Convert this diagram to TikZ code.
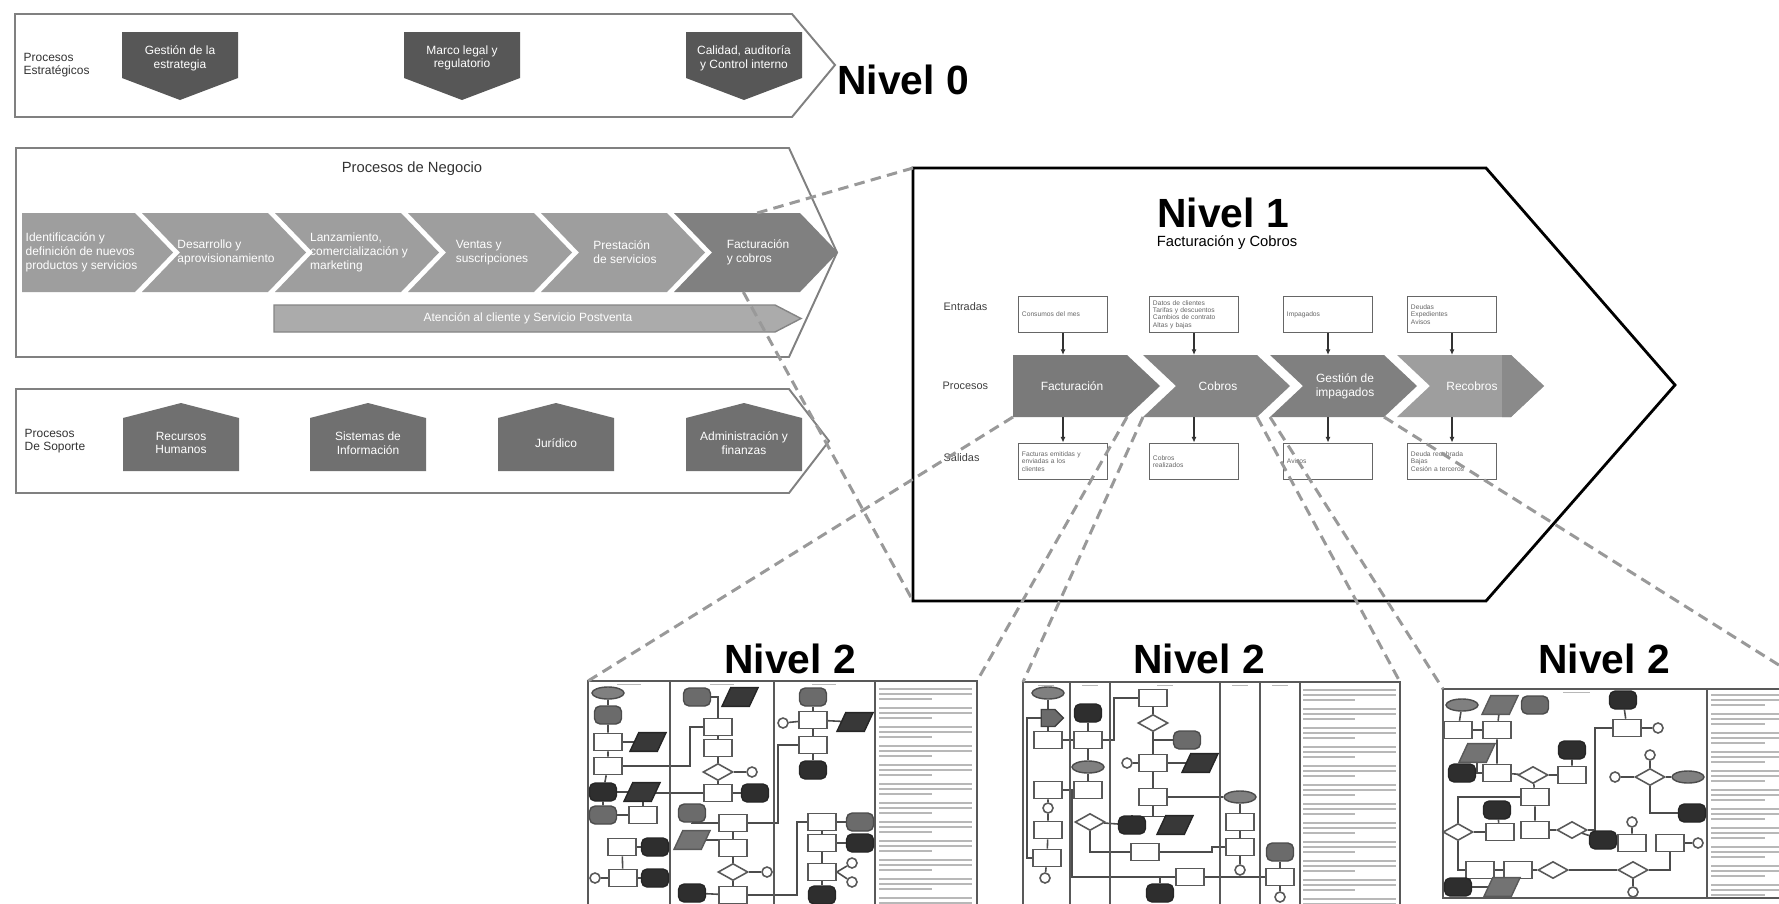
\documentclass[tikz,border=0pt]{standalone}
\usepackage{fontspec}
\setmainfont{Liberation Sans}
\usetikzlibrary{shapes.geometric,shapes.symbols,arrows.meta,calc}
\pgfdeclarelayer{fclinks}
\pgfsetlayers{fclinks,main}
\tikzset{
  pmgroup/.style={draw=black!50, line width=0.55pt, fill=white},
  pmlevel/.style={font=\fontsize{11.6}{13}\selectfont\bfseries, inner sep=0pt},
  pmtitle/.style={font=\fontsize{4.2}{5}\selectfont, text=black!80, inner sep=0pt},
  pmcaption/.style={font=\fontsize{3.4}{3.9}\selectfont, text=black!80, align=left,
                    anchor=west, inner sep=0pt},
  pmwhite/.style={font=\fontsize{3.4}{3.9}\selectfont, text=white, align=center,
                  inner sep=0pt},
  pmstrategic/.style={fill=black!66},
  pmsupport/.style={fill=black!56},
  pmframe/.style={draw=black, line width=0.8pt},
  pmio/.style={rectangle, draw=black!60, fill=white, line width=0.5pt,
               minimum width=0.89cm, minimum height=0.36cm, text width=0.82cm,
               align=left, inner sep=0.6pt, text=black!60,
               font=\fontsize{1.9}{2.1}\selectfont},
  pmrow/.style={font=\fontsize{3.1}{3.5}\selectfont, text=black!75, anchor=west,
                inner sep=0pt},
  pmflow/.style={draw=black!80, line width=0.4pt, -{Latex[length=1.6pt, width=1.4pt]}},
  pmzoom/.style={draw=black!40, line width=0.85pt, dash pattern=on 3pt off 1.8pt},
  fcpanel/.style={draw=black!65, line width=0.6pt},
  fclane/.style={draw=black!65, line width=0.5pt},
  fctext/.style={draw=black!28, line width=0.45pt},
  fcbox/.style={rectangle, draw=black!65, fill=white, line width=0.45pt,
                minimum width=0.28cm, minimum height=0.17cm, inner sep=0pt},
  fcstore/.style={rectangle, rounded corners=1.6pt, draw=black!85, fill=black!82,
                  minimum width=0.27cm, minimum height=0.18cm, inner sep=0pt},
  fcstoregrey/.style={fcstore, fill=black!58, draw=black!70},
  fcdoc/.style={trapezium, trapezium left angle=65, trapezium right angle=115,
                draw=black!85, fill=black!78,
                minimum width=0.36cm, minimum height=0.14cm, inner sep=0.3pt},
  fcdocgrey/.style={fcdoc, fill=black!55, draw=black!65},
  fcdecision/.style={diamond, draw=black!65, fill=white, line width=0.45pt,
                     minimum width=0.3cm, minimum height=0.17cm, inner sep=0pt},
  fcevent/.style={circle, draw=black!65, fill=white, line width=0.45pt,
                  minimum size=0.1cm, inner sep=0pt},
  fcterm/.style={ellipse, draw=black!70, fill=black!50, line width=0.4pt,
                 minimum width=0.32cm, minimum height=0.12cm, inner sep=0pt},
  fcoffpage/.style={signal, signal to=east, draw=black!75, fill=black!58,
                    minimum width=0.22cm, minimum height=0.17cm, inner sep=0.3pt},
  fcline/.style={draw=black!70, line width=0.45pt}
}

\begin{document}
\begin{tikzpicture}[x=0.01cm, y=-0.01cm]
  \useasboundingbox (0,0) rectangle (1779,903);
  \clip (0,0) rectangle (1779,903);

  % Nivel 0: procesos estrategicos
  \draw[pmgroup] (15,14) -- (792,14) -- (835,65) -- (792,117) -- (15,117) -- cycle;
  \node[pmcaption] (estr) at (23,65) {Procesos\\Estratégicos};
  \foreach \cx/\txt [count=\k] in {180/{Gestión de la\\estrategia},
      462/{Marco legal y\\regulatorio}, 744/{Calidad, auditoría\\y Control interno}} {
    \fill[pmstrategic] (\cx-58,32) -- (\cx+58,32) -- (\cx+58,78) -- (\cx,100)
      -- (\cx-58,78) -- cycle;
    \node[pmwhite] (estr\k) at (\cx,58) {\txt};
  }
  \node[pmlevel] (lvl0) at (903,80) {Nivel 0};

  % procesos de negocio
  \draw[pmgroup] (16,148) -- (789,148) -- (837,252.5) -- (789,357) -- (16,357) -- cycle;
  \node[pmtitle] (neg) at (412,169) {Procesos de Negocio};
  \fill[black!38] (22,213) coordinate (neg1-nw) -- (135,213) coordinate (neg1-ne)
    -- (173,252.5) -- (135,292) coordinate (neg1-se) -- (22,292) coordinate (neg1-sw) -- cycle;
  \node[pmwhite, anchor=west, align=left] (neg1) at (25,252.5)
    {Identificación y\\definición de nuevos\\productos y servicios};
  \foreach \i/\shade/\txt in {2/38/{Desarrollo y\\aprovisionamiento},
      3/38/{Lanzamiento,\\comercialización y\\marketing}, 4/38/{Ventas y\\suscripciones},
      5/38/{Prestación\\de servicios}, 6/50/{Facturación\\y cobros}} {
    \pgfmathsetmacro{\cl}{142+133*(\i-2)}
    \fill[black!\shade] (\cl,213) coordinate (neg\i-nw) -- ++(126,0) coordinate (neg\i-ne)
      -- ++(38,39.5) -- ++(-38,39.5) coordinate (neg\i-se) -- (\cl,292) coordinate (neg\i-sw)
      -- ++(38,-39.5) -- cycle;
    \node[pmwhite, align=left] (neg\i) at (\cl+84,252.5) {\txt};
  }
  \filldraw[fill=black!33, draw=black!48, line width=0.4pt] (274,305) -- (775,305)
    -- (801,318.5) -- (775,332) -- (274,332) -- cycle;
  \node[pmwhite] (posv) at (528,318.5) {Atención al cliente y Servicio Postventa};

  % procesos de soporte
  \draw[pmgroup] (16,389) -- (789,389) -- (829,441) -- (789,493) -- (16,493) -- cycle;
  \node[pmcaption] (sop) at (24,441) {Procesos\\De Soporte};
  \foreach \cx/\txt [count=\k] in {181/{Recursos\\Humanos}, 368/{Sistemas de\\Información},
      556/{Jurídico}, 744/{Administración y\\finanzas}} {
    \fill[pmsupport] (\cx-58,418) -- (\cx,403) -- (\cx+58,418) -- (\cx+58,471)
      -- (\cx-58,471) -- cycle;
    \node[pmwhite] (sop\k) at (\cx,443) {\txt};
  }

  % Nivel 1: facturacion y cobros
  \draw[pmframe, fill=white] (913,168) coordinate (n1-nw) -- (1486,168) -- (1675,385)
    -- (1486,601) -- (913,601) coordinate (n1-sw) -- cycle;
  \node[pmlevel] (lvl1) at (1223,213) {Nivel 1};
  \node[pmtitle, text=black] (lvl1sub) at (1227,243) {Facturación y Cobros};
  \node[pmrow] (rowin) at (943,307) {Entradas};
  \node[pmrow] (rowpr) at (942,386) {Procesos};
  \node[pmrow] (rowout) at (943,458) {Salidas};
  \fill[black!52] (1013,355) coordinate (pr1-nw) -- (1127,355) -- (1160,386)
    -- (1127,417) coordinate (pr1-se) -- (1013,417) coordinate (pr1-sw) -- cycle;
  \node[pmwhite] (pr1) at (1072,386) {Facturación};
  \foreach \i/\shade/\txt in {2/48/{Cobros}, 3/50/{Gestión de\\impagados}, 4/38/{Recobros}} {
    \pgfmathsetmacro{\cl}{1143+127*(\i-2)}
    \fill[black!\shade] (\cl,355) coordinate (pr\i-nw) -- ++(114,0) -- ++(33,31)
      -- ++(-33,31) coordinate (pr\i-se) -- (\cl,417) coordinate (pr\i-sw)
      -- ++(33,-31) -- cycle;
    \node[pmwhite] (pr\i) at (\cl+75,386) {\txt};
  }
  \fill[black!46] (1502,355) -- (1511,355) -- (1544,386) -- (1511,417) -- (1502,417) -- cycle;
  \foreach \i/\cx/\intxt/\outtxt in {
      1/1063/{Consumos del mes}/{Facturas emitidas y\\enviadas a los\\clientes},
      2/1194/{Datos de clientes\\Tarifas y descuentos\\Cambios de contrato\\Altas y bajas}/{Cobros\\realizados},
      3/1328/{Impagados}/{Avisos},
      4/1452/{Deudas\\Expedientes\\Avisos}/{Deuda recobrada\\Bajas\\Cesión a terceros}} {
    \node[pmio] (in\i) at (\cx,314.5) {\intxt};
    \node[pmio] (out\i) at (\cx,461.5) {\outtxt};
    \draw[pmflow] (in\i) -- (in\i |- pr\i-nw);
    \draw[pmflow] (out\i |- pr\i-sw) -- (out\i);
  }

  % Nivel 2: tres diagramas de flujo
  \node[pmlevel] (lvl2a) at (790,659) {Nivel 2};
  \node[pmlevel] (lvl2b) at (1199,659) {Nivel 2};
  \node[pmlevel] (lvl2c) at (1604,659) {Nivel 2};

  % panel de facturacion
  \draw[fcpanel] (588,681) coordinate (p1-nw) -- (977,681) coordinate (p1-ne)
    -- (977,910) -- (588,910) -- cycle;
  \foreach \x in {670,774} \draw[fclane] (\x,681) -- (\x,910);
  \draw[fclane, line width=0.8pt] (875,681) -- (875,910);
  \foreach \x in {629,722,824} \draw[fctext] (\x-12,684.5) -- (\x+12,684.5);
  \foreach \p in {0,...,11} {
    \draw[fctext] (879,{689+19*\p}) -- (972,{689+19*\p});
    \draw[fctext] (879,{694+19*\p}) -- (972,{694+19*\p});
    \draw[fctext] (879,{699+19*\p}) -- (932,{699+19*\p});
  }
  \foreach \x/\y [count=\k] in {608/742,608/766,643/815,622/847,623/878,718/727,718/748,
      718/793,733/823,733/848,733/895,813/720,813/745,822/822,822/843,822/872}
    \node[fcbox] (fabox\k) at (\x,\y) {};
  \foreach \x/\y [count=\k] in {603/792,655/847,655/878,755/793,692/893,813/770,860/843,822/895}
    \node[fcstore] (fastore\k) at (\x,\y) {};
  \foreach \x/\y [count=\k] in {608/715,603/815,697/697,692/813,813/697,860/822}
    \node[fcstoregrey] (fagrey\k) at (\x,\y) {};
  \foreach \x/\y [count=\k] in {648/742,642/792,740/697,855/722}
    \node[fcdoc] (fadoc\k) at (\x,\y) {};
  \node[fcdocgrey] (fadoc5) at (692,840) {};
  \node[fcdecision] (fadec1) at (718,772) {};
  \node[fcdecision] (fadec2) at (733,872) {};
  \foreach \x/\y [count=\k] in {595/878,752/772,767/872,783/723,852/863,852/882}
    \node[fcevent] (faev\k) at (\x,\y) {};
  \node[fcterm] (faterm) at (608,693) {};
  \begin{pgfonlayer}{fclinks}
    \draw[fcline] (faterm) -- (fagrey1) -- (fabox1) -- (fabox2) -- (fastore1) -- (fagrey2);
    \draw[fcline] (fabox1) -- (fadoc1);
    \draw[fcline] (fabox2.east) -- (690,766) |- (fabox6.west);
    \draw[fcline] (fagrey3.east) -| (fabox6.north);
    \draw[fcline] (fabox6) -- (fabox7) -- (fadec1) -- (fabox8);
    \draw[fcline] (fadec1) -- (faev2);
    \draw[fcline] (fabox8) -- (fastore4);
    \draw[fcline] (fastore1) -- (fadoc2);
    \draw[fcline] (fagrey2) -- (fabox3);
    \draw[fcline] (fabox8.west) -| (fabox3.north);
    \draw[fcline] (fabox4) -- (fabox5);
    \draw[fcline] (fabox4) -- (fastore2);
    \draw[fcline] (fabox5) -- (fastore3);
    \draw[fcline] (faev1) -- (fabox5);
    \draw[fcline] (fagrey4.south) |- (fabox9.west);
    \draw[fcline] (fabox9) -- (fabox10) -- (fadec2) -- (fabox11);
    \draw[fcline] (fadec2) -- (faev3);
    \draw[fcline] (fastore5) -- (fabox11);
    \draw[fcline] (fadoc5.east) -- (fadoc5.east -| fabox10.west);
    \draw[fcline] (fabox9.east) -- (778,823) |- (fabox13.west);
    \draw[fcline] (fagrey5) -- (fabox12) -- (fabox13) -- (fastore6);
    \draw[fcline] (faev4) -- (fabox12) -- (fadoc4);
    \draw[fcline] (fabox14) -- (fabox15) -- (fabox16) -- (fastore8);
    \draw[fcline] (fabox14) -- (fagrey6);
    \draw[fcline] (fabox15) -- (fastore7);
    \draw[fcline] (fabox16.east) -- (faev5);
    \draw[fcline] (fabox16.east) -- (faev6);
    \draw[fcline] (fabox11.east) -- (797,895) |- (fabox14.west);
  \end{pgfonlayer}

  % panel de cobros
  \draw[fcpanel] (1023,682) coordinate (p2-nw) -- (1400,682) coordinate (p2-ne)
    -- (1400,910) -- (1023,910) -- cycle;
  \foreach \x in {1070,1110,1220,1260} \draw[fclane] (\x,682) -- (\x,910);
  \draw[fclane, line width=0.8pt] (1300,682) -- (1300,910);
  \foreach \x in {1046,1090,1165,1240,1280} \draw[fctext] (\x-8,685.5) -- (\x+8,685.5);
  \foreach \p in {0,...,11} {
    \draw[fctext] (1303,{690+19*\p}) -- (1396,{690+19*\p});
    \draw[fctext] (1303,{695+19*\p}) -- (1396,{695+19*\p});
    \draw[fctext] (1303,{700+19*\p}) -- (1355,{700+19*\p});
  }
  \foreach \x/\y [count=\k] in {1048/740,1048/790,1048/830,1047/858,1088/740,1088/790,
      1153/698,1153/763,1153/797,1145/852,1190/877,1240/822,1240/847,1280/877}
    \node[fcbox] (fbbox\k) at (\x,\y) {};
  \foreach \x/\y [count=\k] in {1088/713,1132/825,1160/893}
    \node[fcstore] (fbstore\k) at (\x,\y) {};
  \foreach \x/\y [count=\k] in {1187/740,1280/852}
    \node[fcstoregrey] (fbgrey\k) at (\x,\y) {};
  \foreach \x/\y [count=\k] in {1048/693,1088/767,1240/797}
    \node[fcterm] (fbterm\k) at (\x,\y) {};
  \foreach \x/\y [count=\k] in {1200/763,1175/825}
    \node[fcdoc] (fbdoc\k) at (\x,\y) {};
  \node[fcdecision] (fbdec1) at (1153,723) {};
  \node[fcdecision] (fbdec2) at (1090,822) {};
  \foreach \x/\y [count=\k] in {1048/808,1045/878,1127/763,1240/870,1280/897}
    \node[fcevent] (fbev\k) at (\x,\y) {};
  \node[fcoffpage] (fboff) at (1048,718) {};
  \begin{pgfonlayer}{fclinks}
    \draw[fcline] (fbterm1) -- (fboff) -- (fbbox1) -- (fbbox5);
    \draw[fcline] (fbstore1) -- (fbbox5) -- (fbterm2) -- (fbbox6);
    \draw[fcline] (fbbox2) -- (fbbox6);
    \draw[fcline] (fbbox2) -- (fbev1) -- (fbbox3) -- (fbbox4) -- (fbev2);
    \draw[fcline] (fboff.west) -- (1027,718) |- (fbbox4.west);
    \draw[fcline] (fbbox5.east) -- (1114,740) |- (fbbox7.west);
    \draw[fcline] (fbbox7) -- (fbdec1) -- (fbbox8) -- (fbbox9);
    \draw[fcline] (fbgrey1.west) -- (fbgrey1.west -| fbbox8.north);
    \draw[fcline] (fbev3) -- (fbbox8) -- (fbdoc1);
    \draw[fcline] (fbbox9) -- (fbterm3) -- (fbbox12) -- (fbbox13) -- (fbev4);
    \draw[fcline] (fbbox9.south) -- ++(0,10) -| (fbstore2);
    \draw[fcline] (fbbox9.south) ++(0,10) -| (fbdoc2);
    \draw[fcline] (fbdec2) -- (fbstore2);
    \draw[fcline] (fbdec2.south) |- (fbbox10.west);
    \draw[fcline] (fbbox10.east) -- (1212,852) |- (fbbox13.west);
    \draw[fcline] (fbgrey2) -- (fbbox14) -- (fbev5);
    \draw[fcline] (fbbox11) -- (fbbox14);
    \draw[fcline] (fbbox11.west) -| (fbstore3.north);
    \draw[fcline] (fbbox11.west) -- (1072,877) |- (fbbox6.west);
  \end{pgfonlayer}

  % panel de gestion de impagados
  \draw[fcpanel] (1443,689) coordinate (p3-nw) -- (1817,689) coordinate (p3-ne)
    -- (1817,898) -- (1443,898) -- cycle;
  \draw[fclane, line width=0.8pt] (1707,689) -- (1707,898);
  \draw[fctext] (1563,692.5) -- (1590,692.5);
  \foreach \p in {0,...,10} {
    \draw[fctext] (1711,{695+19*\p}) -- (1812,{695+19*\p});
    \draw[fctext] (1711,{700+19*\p}) -- (1812,{700+19*\p});
    \draw[fctext] (1711,{705+19*\p}) -- (1765,{705+19*\p});
  }
  \foreach \x/\y [count=\k] in {1458/730,1497/730,1497/773,1572/775,1535/797,1500/832,
      1535/830,1632/843,1627/728,1670/843,1480/870,1518/870}
    \node[fcbox] (fcbox\k) at (\x,\y) {};
  \foreach \x/\y [count=\k] in {1572/750,1462/773,1497/810,1603/840,1623/700,1692/813,1458/887}
    \node[fcstore] (fcstore\k) at (\x,\y) {};
  \node[fcstoregrey] (fcgrey1) at (1535,705) {};
  \foreach \x/\y [count=\k] in {1500/705,1477/753,1502/887}
    \node[fcdocgrey] (fcdoc\k) at (\x,\y) {};
  \node[fcterm] (fcterm1) at (1462,705) {};
  \node[fcterm] (fcterm2) at (1688,777) {};
  \foreach \x/\y [count=\k] in {1533/775,1458/832,1572/830,1553/870,1650/777,1633/870}
    \node[fcdecision] (fcdec\k) at (\x,\y) {};
  \foreach \x/\y [count=\k] in {1632/822,1658/728,1650/755,1615/777,1698/843,1633/892}
    \node[fcevent] (fcev\k) at (\x,\y) {};
  \begin{pgfonlayer}{fclinks}
    \draw[fcline] (fcterm1) -- (fcbox1) -- (fcbox2);
    \draw[fcline] (fcdoc1) -- (fcbox2) -- (fcbox3);
    \draw[fcline] (fcstore2) -- (fcbox3) -- (fcdec1) -- (fcbox4) -- (fcstore1);
    \draw[fcline] (fcdoc2.south) |- (fcbox3.west);
    \draw[fcline] (fcdec1) -- (fcbox5) -- (fcbox7) -- (fcdec3) -- (fcstore4) -- (fcbox8) -- (fcev1);
    \draw[fcline] (fcdec2) -- (fcbox6);
    \draw[fcline] (fcstore3) -- (fcbox6);
    \draw[fcline] (fcdec2.north) |- (fcbox5.west);
    \draw[fcline] (fcdec2.south) |- (fcbox11.west);
    \draw[fcline] (fcbox11) -- (fcbox12) -- (fcdec4) -- (fcdec6) -- (fcev6);
    \draw[fcline] (fcdec6.east) -| (fcbox10.south);
    \draw[fcline] (fcbox10) -- (fcev5);
    \draw[fcline] (fcstore5) -- (fcbox9) -- (fcev2);
    \draw[fcline] (fcbox9.west) -- (1595,728) |- (fcdec3.east);
    \draw[fcline] (fcev3) -- (fcdec5) -- (fcterm2);
    \draw[fcline] (fcev4) -- (fcdec5);
    \draw[fcline] (fcdec5.south) |- (fcstore6.west);
    \draw[fcline] (fcstore7) -- (fcdoc3);
  \end{pgfonlayer}

  % lineas de detalle entre niveles
  \draw[pmzoom] ($(neg6-nw)!0.66!(neg6-ne)$) -- (n1-nw);
  \draw[pmzoom] ($(neg6-sw)!0.55!(neg6-se)$) -- (n1-sw);
  \foreach \i/\p in {1/p1, 2/p2, 3/p3} {
    \draw[pmzoom] (pr\i-sw) -- (\p-nw);
    \draw[pmzoom] (pr\i-se) -- (\p-ne);
  }
\end{tikzpicture}
\end{document}
